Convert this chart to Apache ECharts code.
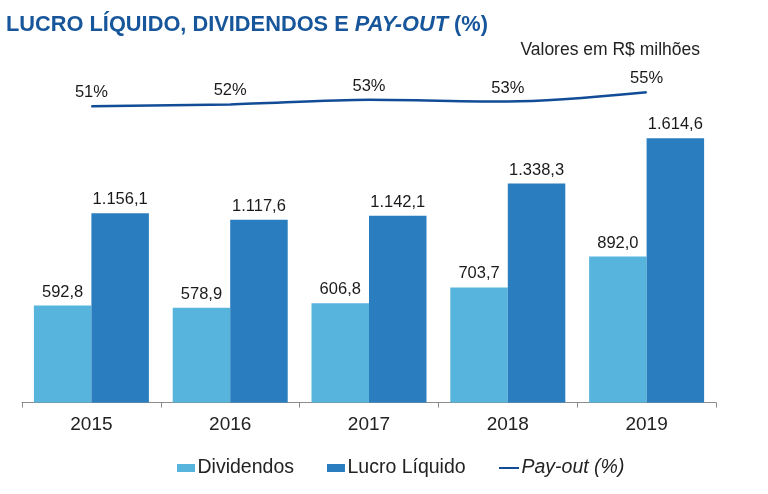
<!DOCTYPE html>
<html>
<head>
<meta charset="utf-8">
<script src="https://cdn.jsdelivr.net/npm/echarts@6/dist/echarts.min.js"></script>
<style>html,body{margin:0;padding:0;background:#fff}#c{width:768px;height:494px}</style>
</head>
<body>
<div id="c"></div>
<script>
const categories = ['2015', '2016', '2017', '2018', '2019'];
const dividendos = [592.8, 578.9, 606.8, 703.7, 892.0];
const lucroLiquido = [1156.1, 1117.6, 1142.1, 1338.3, 1614.6];
const payout = [51.3, 51.8, 53.1, 52.6, 55.2];

const FONT = 'Liberation Sans';
function fmt(v) {
  const parts = v.toFixed(1).split('.');
  return parts[0].replace(/\B(?=(\d{3})+(?!\d))/g, '.') + ',' + parts[1];
}

const chart = echarts.init(document.getElementById('c'));
chart.setOption({
  animation: false,
  textStyle: { fontFamily: FONT },
  title: [
    {
      text: '{a|LUCRO LÍQUIDO, DIVIDENDOS E }{b|PAY-OUT}{a| (%)}',
      left: 1, top: 9,
      textStyle: {
        rich: {
          a: { fontFamily: FONT, fontSize: 21.8, fontWeight: 'bold', color: '#17569A' },
          b: { fontFamily: FONT, fontSize: 21.8, fontWeight: 'bold', fontStyle: 'italic', color: '#17569A' }
        }
      }
    },
    {
      text: 'Valores em R$ milhões',
      right: 63, top: 36,
      textStyle: { fontFamily: FONT, fontSize: 17.5, fontWeight: 'normal', color: '#222' }
    }
  ],
  legend: [
    {
      data: ['Dividendos', 'Lucro Líquido'],
      left: 172, top: 453,
      itemWidth: 18, itemHeight: 8, itemGap: 33, icon: 'rect',
      textStyle: { fontFamily: FONT, fontSize: 19.5, color: '#222', padding: [0, 0, 0, -2.5] }
    },
    {
      data: [{ name: 'Pay-out (%)', icon: 'rect', textStyle: { fontStyle: 'italic' } }],
      left: 494, top: 453,
      itemWidth: 20, itemHeight: 2,
      textStyle: { fontFamily: FONT, fontSize: 19.5, color: '#222', padding: [0, 0, 0, -2.5] }
    }
  ],
  grid: { left: 22, right: 52, top: 75.2, bottom: 91.4, containLabel: false },
  xAxis: {
    type: 'category',
    data: categories,
    boundaryGap: true,
    axisLine: { lineStyle: { color: '#8c8c8c', width: 1 } },
    axisTick: { show: true, length: 5, lineStyle: { color: '#8c8c8c' } },
    axisLabel: { fontFamily: FONT, fontSize: 19, color: '#222', margin: 13 }
  },
  yAxis: [
    { type: 'value', min: 0, max: 2000, show: false, splitLine: { show: false } },
    { type: 'value', min: -32, max: 60, show: false, splitLine: { show: false } }
  ],
  series: [
    {
      name: 'Dividendos', type: 'bar', data: dividendos,
      barWidth: 57.5, barGap: '0%',
      itemStyle: { color: '#57B5DD' },
      label: { show: true, position: 'top', distance: 5, fontFamily: FONT, fontSize: 16.5, color: '#1a1a1a', formatter: p => fmt(p.value) }
    },
    {
      name: 'Lucro Líquido', type: 'bar', data: lucroLiquido,
      barWidth: 57.5, barGap: '0%',
      itemStyle: { color: '#2A7EBF' },
      label: { show: true, position: 'top', distance: 5, fontFamily: FONT, fontSize: 16.5, color: '#1a1a1a', formatter: p => fmt(p.value) }
    },
    {
      name: 'Pay-out (%)', type: 'line', yAxisIndex: 1, data: payout,
      smooth: 0.3, symbol: 'circle', symbolSize: 1, showSymbol: true,
      lineStyle: { color: '#124C97', width: 2.5 },
      itemStyle: { color: '#124C97' },
      label: { show: true, position: 'top', distance: 4.5, fontFamily: FONT, fontSize: 16.5, color: '#1a1a1a', formatter: p => Math.round(p.value) + '%' }
    }
  ]
});
</script>
</body>
</html>
